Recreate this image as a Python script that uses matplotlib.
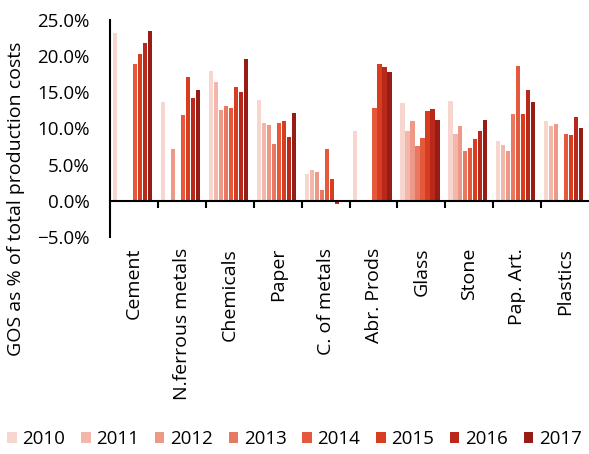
import numpy as np
import matplotlib
matplotlib.use("Agg")
import matplotlib.pyplot as plt
from matplotlib.ticker import PercentFormatter

plt.rcParams['font.family'] = ['Open Sans', 'DejaVu Sans']

sectors = ['Cement', 'N.ferrous metals', 'Chemicals', 'Paper', 'C. of metals',
           'Abr. Prods', 'Glass', 'Stone', 'Pap. Art.', 'Plastics']
years = ['2010', '2011', '2012', '2013', '2014', '2015', '2016', '2017']
nan = np.nan

# GOS share (%) per sector, one list per year
y2010 = [23.2, 13.6, 17.9, 13.9, 3.7, 9.7, 13.5, 13.8, 8.3, 11.1]
y2011 = [nan, nan, 16.4, 10.7, 4.3, nan, 9.7, 9.2, 7.7, 10.3]
y2012 = [nan, 7.2, 12.6, 10.5, 4.0, nan, 11.0, 10.3, 6.9, 10.6]
y2013 = [nan, nan, 13.1, 7.8, 1.5, nan, 7.6, 6.9, 12.0, nan]
y2014 = [18.9, 11.8, 12.8, 10.7, 7.2, 12.9, 8.7, 7.3, 18.7, 9.2]
y2015 = [20.3, 17.1, 15.8, 11.0, 3.0, 18.9, 12.4, 8.5, 12.0, 9.1]
y2016 = [21.8, 14.2, 15.1, 8.8, -0.4, 18.5, 12.7, 9.6, 15.3, 11.6]
y2017 = [23.5, 15.3, 19.6, 12.2, nan, 17.8, 11.2, 11.2, 13.6, 10.1]
series = [y2010, y2011, y2012, y2013, y2014, y2015, y2016, y2017]

colors = ['#f7d6cf', '#f3b7aa', '#ee9987', '#e87862', '#e4583b',
          '#d83d1f', '#b9281a', '#961c16']

fig = plt.figure(figsize=(5.89, 4.54), dpi=100)
ax = fig.add_axes([0.187, 0.478, 0.813, 0.478])

x = np.arange(len(sectors))
slot = 0.104
for k, (vals, c) in enumerate(zip(series, colors)):
    ax.bar(x + (k - 3.5) * slot - 0.03, vals, width=0.088, color=c,
           label=years[k])

ax.set_xlim(-0.5, len(sectors) - 0.5)
ax.set_ylim(-5, 25)
ax.set_yticks(np.arange(-5, 26, 5))
ax.yaxis.set_major_formatter(PercentFormatter(decimals=1))
ax.tick_params(axis='y', length=0, pad=15, labelsize=13.5)

ax.spines['bottom'].set_position(('data', 0))
ax.spines['top'].set_visible(False)
ax.spines['right'].set_visible(False)
ax.spines['left'].set_linewidth(1.5)
ax.spines['bottom'].set_linewidth(1.5)
ax.set_xticks(np.arange(0.5, len(sectors) - 0.5, 1))
ax.set_xticklabels([])
ax.tick_params(axis='x', length=5, width=1.5, direction='out')

for i, name in enumerate(sectors):
    ax.text(i, -0.05, name, transform=ax.get_xaxis_transform(),
            rotation=90, ha='center', va='top', fontsize=14)

fig.text(0.027, 0.562, 'GOS as % of total production costs', rotation=90,
         ha='center', va='center', fontsize=14)

fig.legend(loc='center', bbox_to_anchor=(0.5, 0.033), ncol=8, frameon=False,
           fontsize=13.5, handlelength=0.5, handleheight=0.5,
           handletextpad=0.3, columnspacing=0.85)

fig.savefig('out.png', dpi=100)
